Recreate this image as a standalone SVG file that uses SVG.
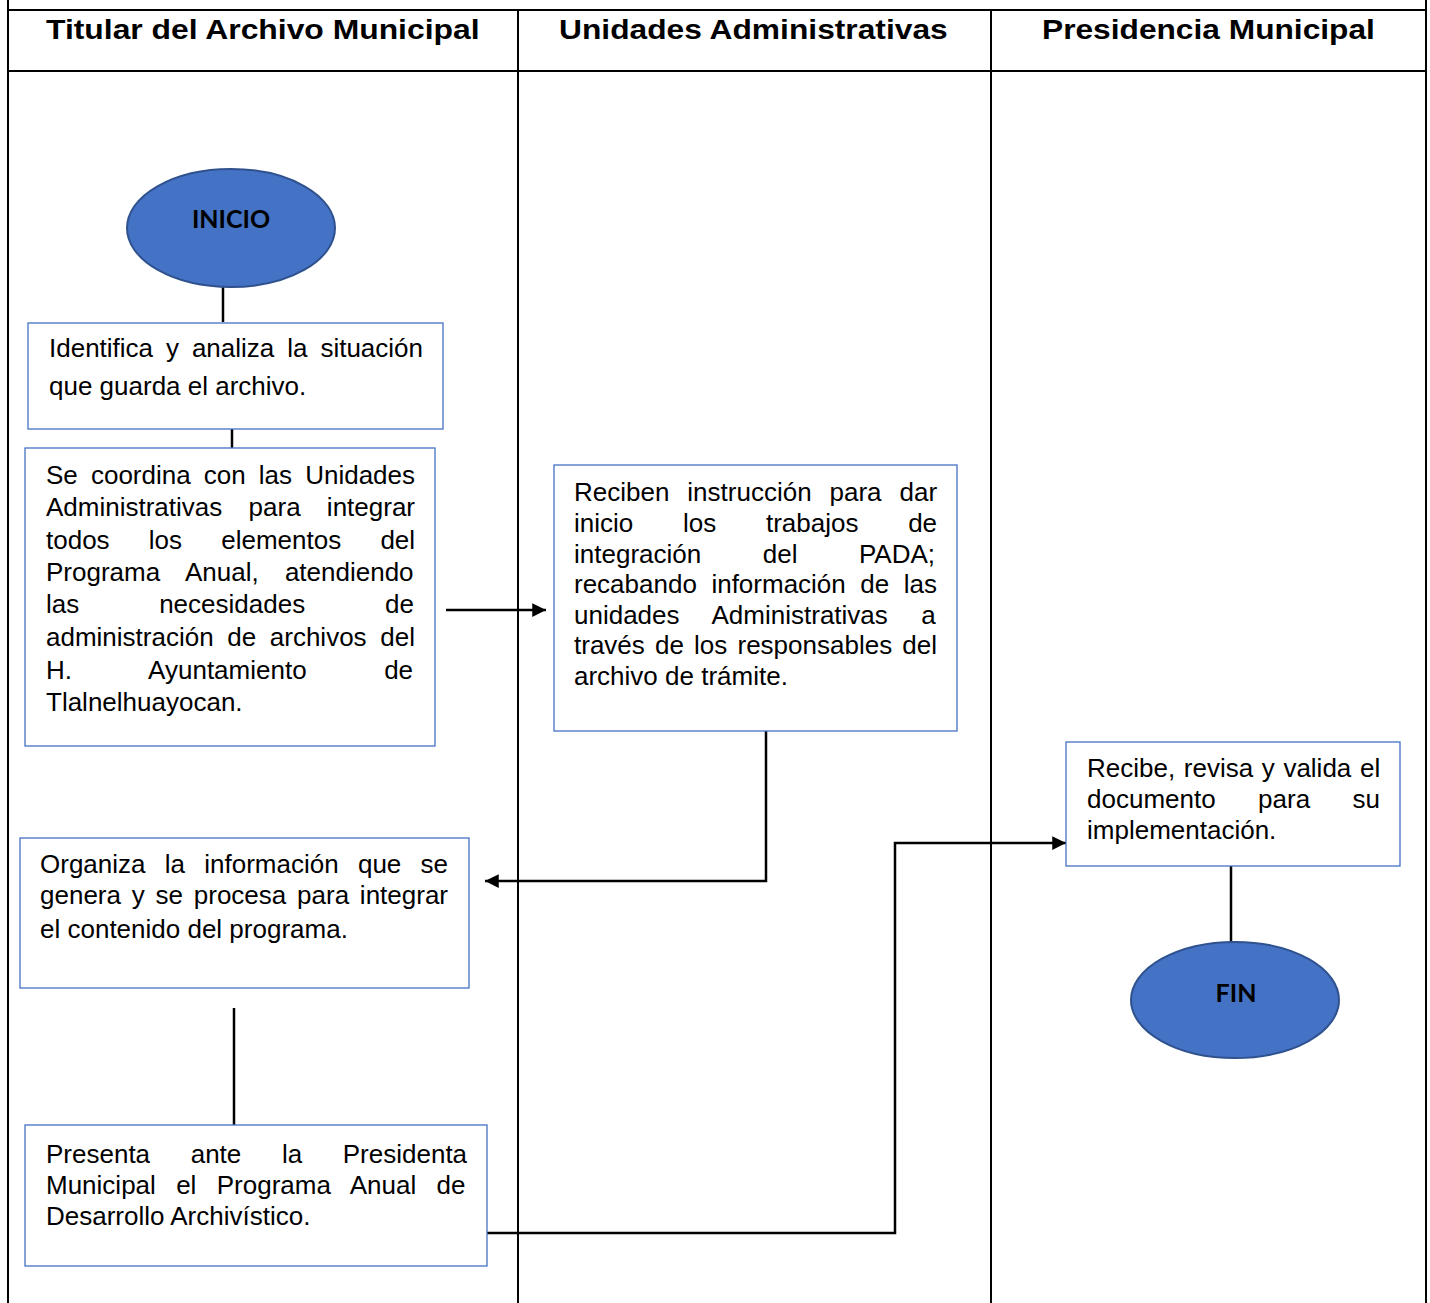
<svg xmlns="http://www.w3.org/2000/svg" width="1430" height="1303" viewBox="0 0 1430 1303">
<style>
.lane{stroke:#000;stroke-width:2;fill:none}
.hdr{font-family:"Liberation Sans",Arial,sans-serif;font-weight:bold;font-size:27px;fill:#000}
.box{fill:#fff;stroke:#4472C4;stroke-width:1.3}
.txt{font-family:"Liberation Sans",Arial,sans-serif;font-size:26px;fill:#000}
.term{fill:#4472C4;stroke:#2F528F;stroke-width:2}
.tt{font-family:Lato,"Open Sans",sans-serif;font-weight:bold;font-size:25px;fill:#000;text-anchor:middle}
.con{stroke:#000;stroke-width:2.5;fill:none}
</style>
<defs>
<marker id="ah" viewBox="0 0 10 10" refX="10" refY="5" markerWidth="5.5" markerHeight="5.5" markerUnits="strokeWidth" orient="auto">
<path d="M0,0 L10,5 L0,10 Z" fill="#000"/>
</marker>
</defs>
<rect x="0" y="0" width="1430" height="1303" fill="#fff"/>
<g id="lanes">
<line class="lane" x1="8" y1="0" x2="8" y2="1303"/>
<line class="lane" x1="1426" y1="0" x2="1426" y2="1303"/>
<line class="lane" x1="8" y1="10" x2="1426" y2="10"/>
<line class="lane" x1="8" y1="71" x2="1426" y2="71"/>
<line class="lane" x1="518" y1="10" x2="518" y2="1303"/>
<line class="lane" x1="991" y1="10" x2="991" y2="1303"/>
<text class="hdr" transform="translate(46 39) scale(1.18 1)">Titular del Archivo Municipal</text>
<text class="hdr" transform="translate(559 39) scale(1.176 1)">Unidades Administrativas</text>
<text class="hdr" transform="translate(1042 39) scale(1.174 1)">Presidencia Municipal</text>
</g>
<g id="connectors">
<line class="con" x1="223" y1="287" x2="223" y2="322"/>
<line class="con" x1="232" y1="429" x2="232" y2="448"/>
<line class="con" x1="446" y1="610" x2="546" y2="610" marker-end="url(#ah)"/>
<polyline class="con" points="766,731 766,881 485,881" marker-end="url(#ah)"/>
<line class="con" x1="234" y1="1008" x2="234" y2="1125"/>
<polyline class="con" points="482,1233 895,1233 895,843 1066,843" marker-end="url(#ah)"/>
<line class="con" x1="1231" y1="866" x2="1231" y2="942"/>
</g>
<g id="inicio">
<ellipse class="term" cx="231" cy="228" rx="104" ry="59"/>
<text class="tt" x="231" y="228">INICIO</text>
</g>
<g id="identifica">
<rect class="box" x="28" y="323" width="415" height="106"/>
<text class="txt" x="49" y="357" style="word-spacing:5.7px">Identifica y analiza la situación</text>
<text class="txt" x="49" y="395">que guarda el archivo.</text>
</g>
<g id="coordina">
<rect class="box" x="25" y="448" width="410" height="298"/>
<text class="txt" x="46" y="484" style="word-spacing:5.9px">Se coordina con las Unidades</text>
<text class="txt" x="46" y="516" style="word-spacing:19.05px">Administrativas para integrar</text>
<text class="txt" x="46" y="549" style="word-spacing:31.97px">todos los elementos del</text>
<text class="txt" x="46" y="581" style="word-spacing:19px">Programa Anual, atendiendo</text>
<text class="txt" x="46" y="613" style="word-spacing:72.7px">las necesidades de</text>
<text class="txt" x="46" y="646" style="word-spacing:6.4px">administración de archivos del</text>
<text class="txt" x="46" y="679" style="word-spacing:70.3px">H. Ayuntamiento de</text>
<text class="txt" x="46" y="711">Tlalnelhuayocan.</text>
</g>
<g id="reciben">
<rect class="box" x="554" y="465" width="403" height="266"/>
<text class="txt" x="574" y="501" style="word-spacing:10.7px">Reciben instrucción para dar</text>
<text class="txt" x="574" y="532" style="word-spacing:42.5px">inicio los trabajos de</text>
<text class="txt" x="574" y="563" style="word-spacing:54.3px">integración del PADA;</text>
<text class="txt" x="574" y="593" style="word-spacing:7.3px">recabando información de las</text>
<text class="txt" x="574" y="624" style="word-spacing:26.2px">unidades Administrativas a</text>
<text class="txt" x="574" y="654" style="word-spacing:2.95px">través de los responsables del</text>
<text class="txt" x="574" y="685">archivo de trámite.</text>
</g>
<g id="organiza">
<rect class="box" x="20" y="838" width="449" height="150"/>
<text class="txt" x="40" y="873" style="word-spacing:12.05px">Organiza la información que se</text>
<text class="txt" x="40" y="904" style="word-spacing:3.56px">genera y se procesa para integrar</text>
<text class="txt" x="40" y="938">el contenido del programa.</text>
</g>
<g id="presenta">
<rect class="box" x="25" y="1125" width="462" height="141"/>
<text class="txt" x="46" y="1163" style="word-spacing:33.4px">Presenta ante la Presidenta</text>
<text class="txt" x="46" y="1194" style="word-spacing:13.1px">Municipal el Programa Anual de</text>
<text class="txt" x="46" y="1225">Desarrollo Archivístico.</text>
</g>
<g id="recibe">
<rect class="box" x="1066" y="742" width="334" height="124"/>
<text class="txt" x="1087" y="777" style="word-spacing:1.4px">Recibe, revisa y valida el</text>
<text class="txt" x="1087" y="808" style="word-spacing:35.2px">documento para su</text>
<text class="txt" x="1087" y="839">implementación.</text>
</g>
<g id="fin">
<ellipse class="term" cx="1235" cy="1000" rx="104" ry="58"/>
<text class="tt" x="1236" y="1002">FIN</text>
</g>
</svg>
